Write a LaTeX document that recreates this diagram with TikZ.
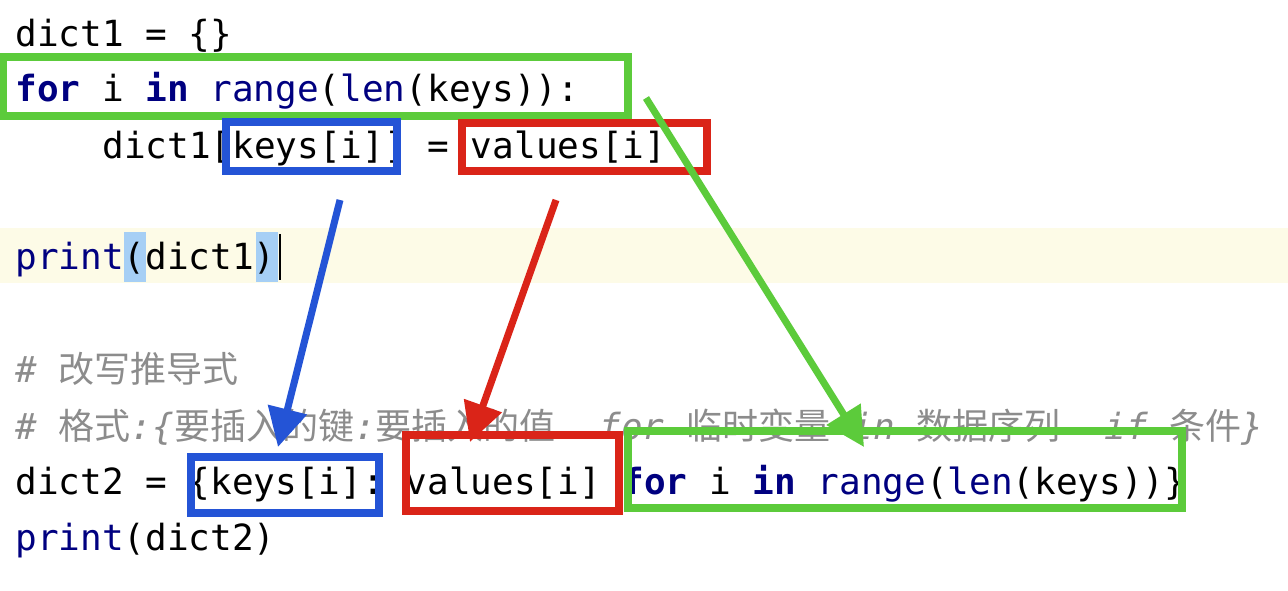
\documentclass[tikz,border=0pt]{standalone}
\usepackage{fontspec}
\setmonofont{DejaVu Sans Mono}
\newfontfamily\cjk{Noto Sans CJK SC}
\usetikzlibrary{arrows.meta}
\definecolor{kwblue}{HTML}{000080}
\definecolor{cmtgray}{HTML}{8C8C8C}
\definecolor{boxgreen}{HTML}{5CCB3B}
\definecolor{boxblue}{HTML}{2454D6}
\definecolor{boxred}{HTML}{DA2418}
\definecolor{linehl}{HTML}{FDFBE7}
\definecolor{parhl}{HTML}{A6CFF5}
\newcommand{\kw}[1]{{\bfseries\color{kwblue}#1}}
\newcommand{\fn}[1]{{\color{kwblue}#1}}
\newcommand{\cm}[1]{{\itshape\color{cmtgray}#1}}
\newcommand{\cz}[1]{{\cjk\color{cmtgray}#1}}
\begin{document}
\begin{tikzpicture}[x=0.02cm, y=-0.02cm,
    code/.style={anchor=base west, inner sep=0pt, font=\ttfamily\fontsize{20.5}{24}\selectfont},
    mark box/.style={draw=#1, line width=4.5pt, inner sep=0pt},
    pointer/.style={draw=#1, line width=4pt, -{Triangle[length=22pt,width=22pt]}}]
  \useasboundingbox (0,0) rectangle (1288,591);
  \fill[white] (0,0) rectangle (1288,591);
  % highlighted line
  \fill[linehl] (0,228) rectangle (1288,283);
  \fill[parhl] (124,232) rectangle (146,282);
  \fill[parhl] (256,232) rectangle (278,282);
  \draw[line width=1.5pt] (280,234) -- (280,280);
  % code lines
  \node[code] (l1) at (15,47) {dict1 = \{\}};
  \node[code] (l2) at (15,102) {\kw{for} i \kw{in} \fn{range}(\fn{len}(keys)):};
  \node[code] (l3) at (102,159) {dict1[keys[i]] = values[i]};
  \node[code] (l4) at (15,270) {\fn{print}(dict1)};
  \node[code] (l5) at (15,382) {\cm{\#} \cz{改写推导式}};
  \node[code] (l6) at (15,439) {\cm{\#} \cz{格式}\cm{:\{}\cz{要插入的键}\cm{:}\cz{要插入的值}\cm{\ \ for} \cz{临时变量} \cm{in} \cz{数据序列}\cm{\ \ if} \cz{条件}\cm{\}}};
  \node[code] (l7) at (15,494) {dict2 = \{keys[i]: values[i] \kw{for} i \kw{in} \fn{range}(\fn{len}(keys))\}};
  \node[code] (l8) at (15,550) {\fn{print}(dict2)};
  % boxes
  \node[mark box=boxgreen, minimum width=12.5cm, minimum height=1.18cm] (g1) at (315.5,86.5) {};
  \node[mark box=boxblue, minimum width=3.42cm, minimum height=0.98cm] (b1) at (311.5,146.5) {};
  \node[mark box=boxred, minimum width=4.9cm, minimum height=0.96cm] (r1) at (584.5,147) {};
  \node[mark box=boxblue, minimum width=3.76cm, minimum height=1.12cm] (b2) at (285,485) {};
  \node[mark box=boxred, minimum width=4.26cm, minimum height=1.52cm] (r2) at (512.5,473) {};
  \node[mark box=boxgreen, minimum width=11.08cm, minimum height=1.54cm] (g2) at (905,469.5) {};
  % arrows
  \coordinate (bs) at (340,200);
  \coordinate (be) at (278,447);
  \coordinate (rs) at (556,200);
  \coordinate (re) at (470,442);
  \coordinate (gs) at (646,98);
  \coordinate (ge) at (864,447);
  \draw[pointer=boxblue] (bs) -- (be);
  \draw[pointer=boxred] (rs) -- (re);
  \draw[pointer=boxgreen] (gs) -- (ge);
\end{tikzpicture}
\end{document}
